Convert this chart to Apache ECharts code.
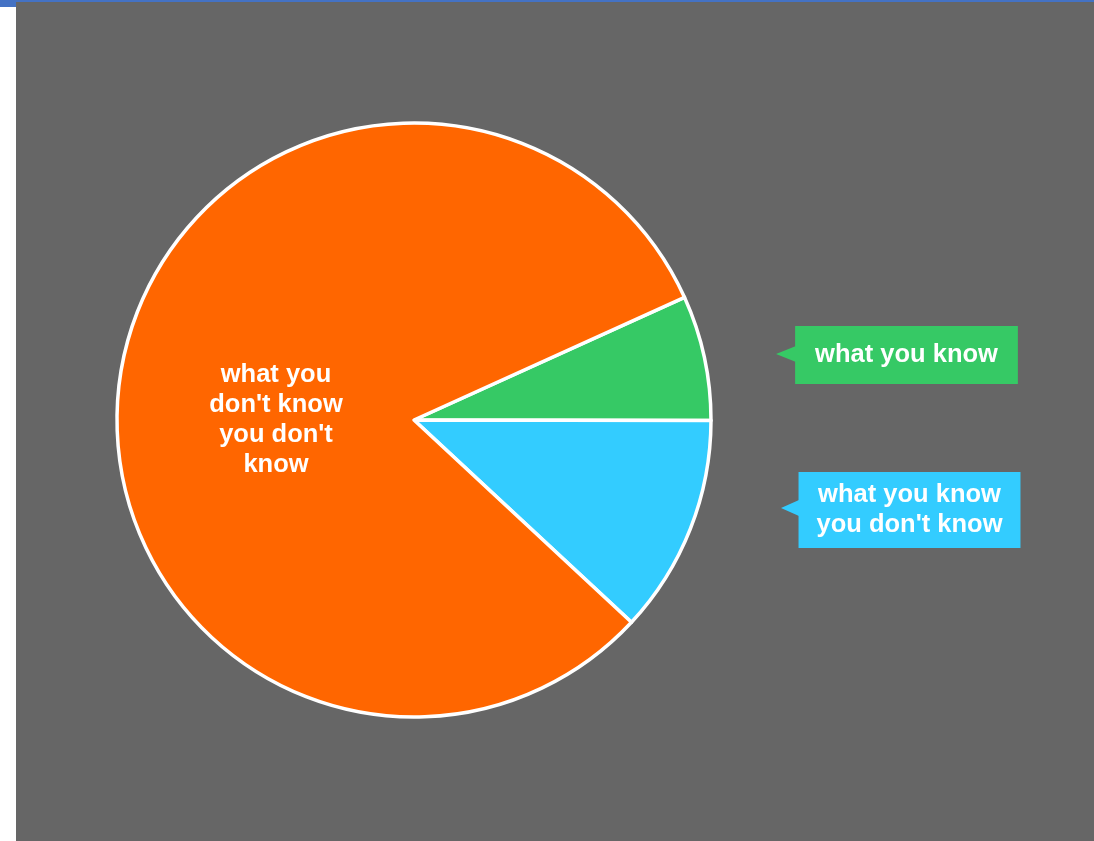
<!DOCTYPE html>
<html>
<head>
<meta charset="utf-8">
<script src="https://cdn.jsdelivr.net/npm/echarts@6/dist/echarts.min.js"></script>
<style>
html,body{margin:0;padding:0;background:#ffffff;}
#chart{width:1094px;height:841px;}
</style>
</head>
<body>
<div id="chart"></div>
<script>
const categories = ['what you know', "what you know\nyou don't know", "what you\ndon't know\nyou don't\nknow"];
const values = [6.8, 11.9, 81.3];
const colors = ['#36C965', '#33CCFF', '#FF6600'];

const chart = echarts.init(document.getElementById('chart'), null, {renderer: 'canvas'});

const labelPos = [
  {x: 906.5, y: 355},
  {x: 909.5, y: 510},
  {x: 276, y: 420}
];
const labelStyles = [
  {backgroundColor: '#36C965', padding: [14, 20, 14, 20]},
  {backgroundColor: '#33CCFF', padding: [8, 18, 8, 18]},
  {}
];

chart.setOption({
  backgroundColor: '#ffffff',
  animation: false,
  graphic: [
    {type: 'rect', shape: {x: 16, y: 0, width: 1078, height: 841}, style: {fill: '#666666'}, z: -10},
    {type: 'rect', shape: {x: 0, y: 0, width: 1094, height: 2}, style: {fill: '#4472C4'}, z: -9},
    {type: 'rect', shape: {x: 0, y: 0, width: 16, height: 7}, style: {fill: '#4472C4'}, z: -9},
    {type: 'polygon', shape: {points: [[776, 354], [796, 346], [796, 362]]}, style: {fill: '#36C965'}, z: 5},
    {type: 'polygon', shape: {points: [[781, 508], [799, 500], [799, 516]]}, style: {fill: '#33CCFF'}, z: 5}
  ],
  series: [{
    type: 'pie',
    center: [414, 420],
    radius: [0, 297],
    startAngle: 24.4,
    clockwise: true,
    silent: true,
    itemStyle: {borderColor: '#ffffff', borderWidth: 3.5},
    label: {
      show: true,
      position: 'inside',
      color: '#ffffff',
      fontFamily: 'Liberation Sans, Arial, sans-serif',
      fontWeight: 'bold',
      fontSize: 25.5,
      lineHeight: 30,
      align: 'center',
      formatter: '{b}'
    },
    labelLine: {show: false},
    labelLayout: function (p) {
      const pos = labelPos[p.dataIndex];
      return {x: pos.x, y: pos.y, align: 'center', verticalAlign: 'middle'};
    },
    data: categories.map((c, i) => ({
      name: c,
      value: values[i],
      itemStyle: {color: colors[i]},
      label: Object.assign({}, labelStyles[i])
    }))
  }]
});
</script>
</body>
</html>
